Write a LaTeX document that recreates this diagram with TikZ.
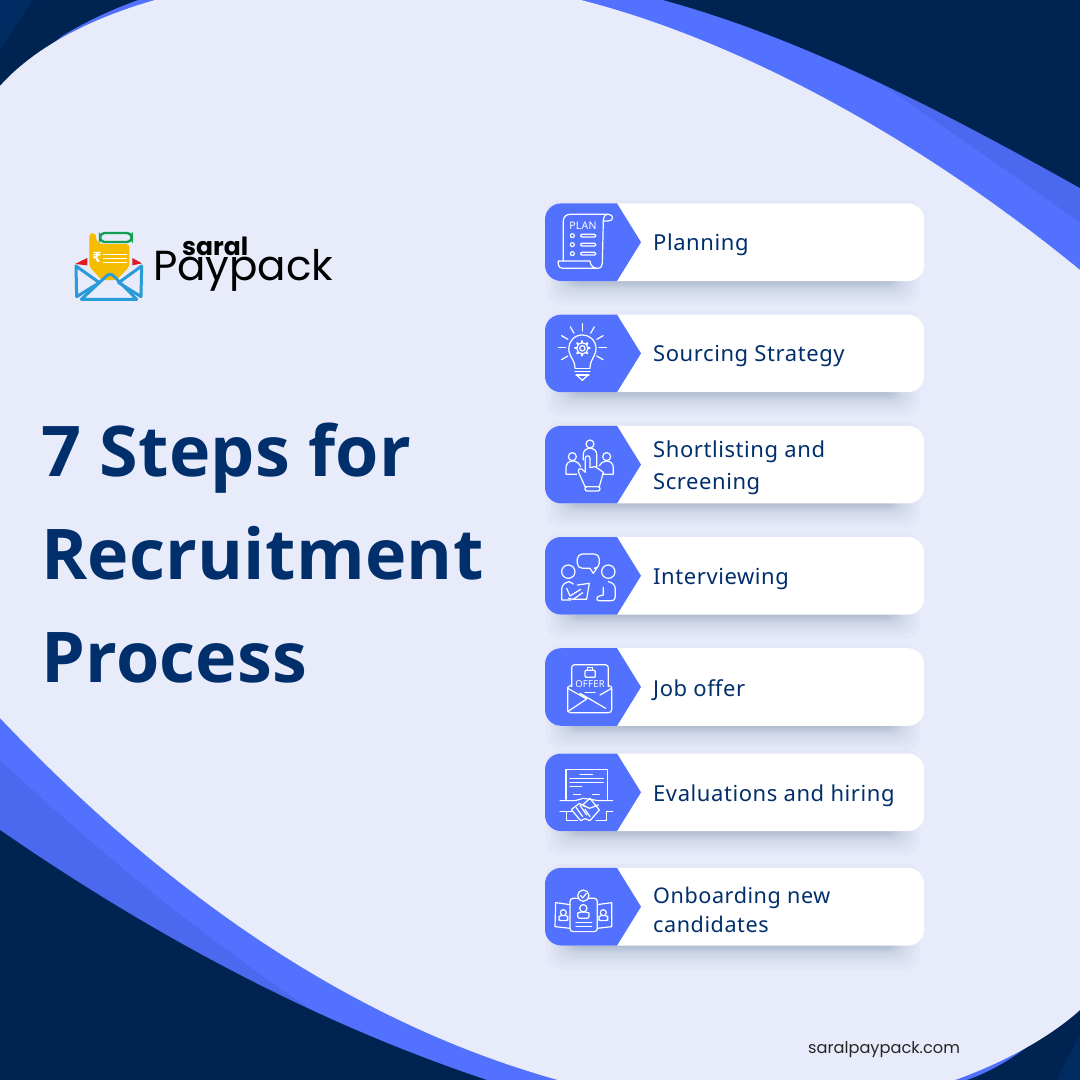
\documentclass[tikz,border=0pt]{standalone}
\usepackage{fontspec}
\usetikzlibrary{positioning, calc, backgrounds}
\setmainfont{Noto Sans}
\newfontfamily\titlefont[LetterSpace=0.4]{Open Sans}
\newfontfamily\labelfont[LetterSpace=2.6]{Noto Sans}
\newfontfamily\logofont{Poppins}
\newfontfamily\rupeefont{DejaVu Sans}
\definecolor{navy}{HTML}{002451}
\definecolor{navywedge}{HTML}{002C63}
\definecolor{tagblue}{HTML}{5271FF}
\definecolor{midblue}{HTML}{4B69EE}
\definecolor{paper}{HTML}{E7EBFA}
\definecolor{inkblue}{HTML}{002F6C}
\definecolor{logoblue}{HTML}{2A9BD8}
\definecolor{logoyellow}{HTML}{F5BC00}
\definecolor{logogreen}{HTML}{12A150}
\definecolor{logored}{HTML}{E11B22}
\tikzset{
    card/.style={fill=white, rounded corners=16pt, minimum width=379pt, minimum height=77.6pt, inner sep=0pt, outer sep=0pt},
    cardlabel/.style={anchor=west, text=inkblue, font=\labelfont\fontsize{22}{32}\selectfont, align=left, inner sep=0pt, yshift=-3pt},
    iconline/.style={draw=white, line width=1.2pt, line cap=round, line join=round},
    upperzoom/.style={x=0.3333pt, y=-0.3333pt, shift={(540pt,-195pt)}},
    lowerzoom/.style={x=0.3333pt, y=-0.3333pt, shift={(540pt,-530pt)}},
    logozoom/.style={x=0.3333pt, y=-0.3333pt, shift={(60pt,-220pt)}},
}
\begin{document}
\begin{tikzpicture}[x=1pt, y=-1pt, node distance=33.6pt]
    \useasboundingbox (0,0) rectangle (1080,1080);

    % the step cards
    \node[card]                     (card 1) at (734.5,242.2) {};
    \node[card, below=of card 1]    (card 2) {};
    \node[card, below=of card 2]    (card 3) {};
    \node[card, below=of card 3]    (card 4) {};
    \node[card, below=of card 4]    (card 5) {};
    \node[card, below=27.7pt of card 5]    (card 6) {};
    \node[card, below=36.8pt of card 6]    (card 7) {};

    \foreach \n in {1,...,7} {
        \fill[tagblue] ($(card \n.north west)+(72,0)$) -- ($(card \n.west)+(96,0)$) -- ($(card \n.south west)+(72,0)$)
            -- ($(card \n.south west)+(16,0)$) arc[start angle=270, end angle=180, radius=16pt]
            -- ($(card \n.north west)+(0,16)$) arc[start angle=180, end angle=90, radius=16pt] -- cycle;
    }

    \node[cardlabel] (label 1) at ($(card 1.west)+(108,0)$) {Planning};
    \node[cardlabel] (label 2) at ($(card 2.west)+(108,0)$) {Sourcing Strategy};
    \node[cardlabel] (label 3) at ($(card 3.west)+(108,0)$) {Shortlisting and\\Screening};
    \node[cardlabel] (label 4) at ($(card 4.west)+(108,0)$) {Interviewing};
    \node[cardlabel] (label 5) at ($(card 5.west)+(108,0)$) {Job offer};
    \node[cardlabel] (label 6) at ($(card 6.west)+(108,0)$) {Evaluations and hiring};
    \node[cardlabel, font=\labelfont\fontsize{21.6}{29}\selectfont] (label 7) at ($(card 7.west)+(108,0)$) {Onboarding new\\candidates};

    % title and address
    \node[anchor=west, align=left, inner sep=0pt, text=inkblue, font=\titlefont\bfseries\fontsize{70}{103}\selectfont] (title) at (41,553) {7 Steps for\\Recruitment\\Process};
    \node[anchor=base west, inner sep=0pt, text=black!85, font=\logofont\fontsize{16.2}{18}\selectfont] (site) at (808,1053) {saralpaypack.com};

    % logo
    \begin{scope}[logozoom]
        \fill[logored] (45,132) -- (82,114) -- (82,136) -- cycle;
        \fill[logored] (217,114) -- (246,130) -- (217,136) -- cycle;
        \fill[logoyellow, rounded corners=3pt] (88,40) -- (108,40) -- (108,62) -- (122,72) -- (208,72) -- (208,140) -- (170,180) -- (125,180) -- (88,140) -- cycle;
        \draw[logogreen, line width=2.4pt, rounded corners=4.5pt] (120,39) rectangle (215,66);
        \draw[white, line width=1pt] (130,103) -- (202,103) (130,115) -- (202,115) (130,127) -- (202,127);
        \node[inner sep=0pt, text=white, font=\rupeefont\bfseries\fontsize{14}{14}\selectfont] (rupee) at (111,112) {₹};
        \draw[logoblue, line width=3pt, line join=round] (48,138) -- (118,188) -- (50,230) -- cycle;
        \draw[logoblue, line width=3pt, line join=round] (245,138) -- (176,188) -- (243,230) -- cycle;
        \draw[logoblue, line width=3pt, line join=round] (64,238) -- (135,172) .. controls (145,160) and (155,160) .. (165,172) -- (230,238) -- cycle;
    \end{scope}
    \node[anchor=base west, inner sep=0pt, text=black, font=\logofont\fontsize{42}{42}\selectfont] (logo word) at (153,280) {Paypack};
    \node[anchor=base west, inner sep=0pt, text=black, font=\logofont\bfseries\fontsize{25}{25}\selectfont] (logo saral) at (182,255) {saral};

    % icons, in units of a third of a pixel
    \begin{scope}[upperzoom, iconline]
        % plan
        \draw (70,198) -- (70,78) .. controls (70,66) and (78,58) .. (90,58) -- (205,58) .. controls (222,58) and (222,78) .. (205,78) -- (190,78);
        \draw (205,58) .. controls (195,58) and (190,66) .. (190,78) -- (187,205) .. controls (187,214) and (182,220) .. (172,220) -- (68,220) .. controls (60,220) and (55,215) .. (55,208) -- (55,198) -- (150,198) .. controls (150,210) and (160,220) .. (172,220);
        \foreach \y in {122,149,176} {
            \draw (97,\y) circle (6);
            \draw[rounded corners=1pt] (122,\y-4) rectangle (167,\y+4);
        }
        \node[inner sep=0pt, text=white, font=\labelfont\fontsize{10.5}{11}\selectfont] (plan word) at (129,91) {PLAN};
        % bulb
        \draw (105,518) .. controls (105,500) and (95,492) .. (90,478) arc[start angle=155, end angle=385, radius=41] .. controls (159,492) and (150,500) .. (150,518);
        \draw (105,520) -- (150,520) (105,530) -- (150,530) (108,540) -- (147,540);
        \draw (112,542) -- (127,556) -- (142,542);
        \draw (127,460) circle (8);
        \draw (127,460) circle (17);
        \foreach \a in {0,45,...,315} \draw[line width=2pt] (127,460) ++(\a:17) -- ++(\a:5);
        \foreach \a in {30,0,-30,-60,-90,-120,-150,180,150} \draw (127,458) ++(\a:50) -- ++(\a:22);
        % shortlist
        \draw (150,747) circle (12) (97,785) circle (12) (200,785) circle (12);
        \draw (130,795) -- (130,778) .. controls (130,766) and (140,760) .. (150,760) .. controls (160,760) and (170,766) .. (170,778) -- (170,815);
        \draw (110,838) -- (78,838) -- (78,818) .. controls (78,806) and (87,798) .. (97,798) .. controls (108,798) and (118,804) .. (122,815);
        \draw (182,838) -- (220,838) -- (220,818) .. controls (220,806) and (211,798) .. (200,798) .. controls (190,798) and (182,804) .. (178,812);
        \draw[fill=tagblue] (135,875) -- (115,830) .. controls (113,822) and (120,818) .. (125,822) -- (136,832) -- (136,790) .. controls (136,780) and (150,780) .. (150,790) -- (150,818) -- (165,815) -- (176,822) -- (190,832) -- (178,875) -- cycle;
        \draw[rounded corners=2pt] (135,875) rectangle (180,888);
    \end{scope}
    \begin{scope}[lowerzoom, iconline]
        % interview
        \draw[rounded corners=5pt] (150,115) -- (112,115) -- (112,72) -- (178,72) -- (178,115) -- (170,115);
        \draw (150,115) -- (160,130) -- (170,115);
        \draw (85,125) circle (20) (205,125) circle (20);
        \draw (65,210) -- (65,178) .. controls (65,165) and (75,157) .. (88,155) -- (100,162) (65,210) -- (92,210);
        \draw (80,175) -- (90,198) -- (122,178) (85,205) -- (100,208) -- (128,188);
        \draw (112,165) -- (148,160) -- (140,208) -- (100,208);
        \draw (190,172) -- (190,195) -- (178,198) .. controls (168,200) and (168,212) .. (178,212) -- (212,212) .. controls (222,212) and (226,208) .. (226,200) -- (226,178) .. controls (226,165) and (218,158) .. (205,155);
        % offer
        \draw[rounded corners=3pt] (95,470) -- (95,404) -- (205,404) -- (205,470);
        \draw[rounded corners=3pt] (83,472) -- (83,548) -- (215,548) -- (215,472);
        \draw (83,472) -- (95,465) (215,472) -- (205,465);
        \draw (83,475) -- (140,507) (83,545) -- (140,507) (120,490) -- (197,535) (215,475) -- (180,495);
        \draw (135,487) -- (165,487);
        \draw[rounded corners=1pt] (135,421) rectangle (166,442);
        \draw (143,421) -- (143,413) -- (158,413) -- (158,421);
        \node[inner sep=0pt, text=white, font=\labelfont\bfseries\fontsize{9.5}{10}\selectfont] (offer word) at (150,462) {OFFER};
        % evaluation
        \draw (78,808) -- (78,718) -- (202,718) -- (202,808);
        \draw (120,733) -- (158,733) (90,745) -- (190,745) (90,757) -- (190,757) (90,769) -- (125,769) (158,793) -- (178,793) (100,793) -- (122,793);
        \draw (60,812) -- (105,812) .. controls (115,812) and (122,805) .. (130,805) -- (175,812) -- (218,812);
        \draw (60,845) -- (95,845) (200,845) -- (218,845);
        \draw (80,845) -- (80,872) -- (112,872) (200,845) -- (200,872) -- (168,872);
        \draw (95,838) -- (118,820) -- (135,830) (122,872) -- (95,840) (122,872) -- (135,866) -- (150,872) -- (178,840) -- (150,805) -- (128,825) -- (148,835) -- (175,825);
        \draw (108,832) -- (128,860) (120,826) -- (140,855) (135,838) -- (150,860);
        % onboarding
        \draw[rounded corners=3pt] (90,1105) rectangle (172,1205);
        \draw[fill=tagblue] (130,1097) circle (17);
        \draw (122,1097) -- (128,1104) -- (139,1090);
        \draw (130,1135) circle (11);
        \draw[rounded corners=2pt] (113,1165) -- (113,1155) .. controls (113,1150) and (122,1146) .. (130,1146) .. controls (138,1146) and (147,1150) .. (147,1155) -- (147,1165) -- cycle;
        \draw (108,1178) -- (155,1178) (108,1190) -- (155,1190);
        \draw (90,1124) -- (47,1118) -- (45,1190) -- (90,1195);
        \draw (172,1124) -- (215,1118) -- (215,1190) -- (172,1195);
        \draw (70,1148) circle (9) (190,1148) circle (9);
        \draw[rounded corners=2pt] (57,1172) -- (57,1165) .. controls (57,1160) and (64,1157) .. (70,1157) .. controls (76,1157) and (83,1160) .. (83,1165) -- (83,1172) -- cycle;
        \draw[rounded corners=2pt] (177,1172) -- (177,1165) .. controls (177,1160) and (184,1157) .. (190,1157) .. controls (196,1157) and (203,1160) .. (203,1165) -- (203,1172) -- cycle;
    \end{scope}

    % ground and card shadows
    \begin{scope}[on background layer]
        \fill[tagblue] (0,0) rectangle (1080,1080);
        % darker bands
        \fill[midblue] (873,78) .. controls (940,125) and (1010,172) .. (1080,223) -- (1080,0) -- (873,0) -- cycle;
        \fill[midblue] (0,760) .. controls (110,863) and (220,950) .. (330,1022) -- (330,1080) -- (0,1080) -- cycle;
        % corners
        \fill[navy] (0,0) -- (138,0) .. controls (110,10) and (85,22) .. (62,36) -- (0,86) -- cycle;
        \fill[navy] (663,0) .. controls (802,38) and (941,110) .. (1080,188) -- (1080,0) -- cycle;
        \fill[navy] (0,830) .. controls (162,942) and (325,1026) .. (487,1080) -- (0,1080) -- cycle;
        \fill[navy] (967,1080) .. controls (990,1072) and (1010,1060) .. (1027,1047) -- (1080,1000) -- (1080,1080) -- cycle;
        \fill[navywedge] (0,0) -- (33,0) .. controls (20,18) and (10,35) .. (0,50) -- cycle;
        \fill[navywedge] (1080,1080) -- (1057,1080) .. controls (1064,1065) and (1072,1050) .. (1080,1035) -- cycle;
        % sheet
        \fill[paper] (0,86) .. controls (32,50) and (85,20) .. (155,0) -- (581,0)
            .. controls (745,42) and (925,143) .. (1080,270) -- (1080,1010)
            .. controls (1050,1037) and (1005,1062) .. (955,1080) -- (558,1080)
            .. controls (372,1028) and (186,914) .. (0,718) -- cycle;
        \foreach \n in {1,...,7} {
            \foreach \d in {-10,-9,-8,-7,-6,-5,-4,-3,-2,0,2,4,7,10,14} {
                \fill[navy, opacity=0.016, rounded corners=14pt] ($(card \n.north west)+(15-\d,10-\d)$) rectangle ($(card \n.south east)+(-18+\d,10+\d)$);
            }
        }
    \end{scope}
\end{tikzpicture}
\end{document}
